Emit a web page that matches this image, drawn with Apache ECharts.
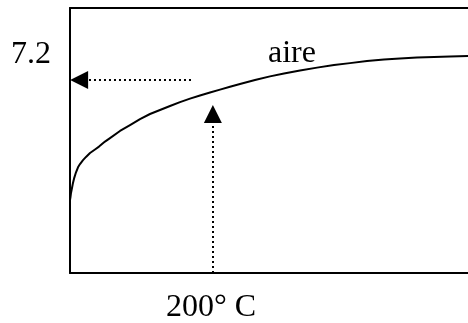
<!DOCTYPE html>
<html>
<head>
<meta charset="utf-8">
<script src="https://cdn.jsdelivr.net/npm/echarts@6/dist/echarts.min.js"></script>
<style>
html,body{margin:0;padding:0;background:#fff;}
#c{width:468px;height:323px;}
</style>
</head>
<body>
<div id="c"></div>
<script>
// Curve "aire" (x in 0..100, y in 0..10 arbitrary units)
var curveX = [0, 0.13, 0.25, 0.5, 0.75, 1.01, 1.51, 2.01, 2.51, 3.27, 4.02, 5.03, 6.28, 7.29, 8.79, 10.05, 12.56, 15.08, 17.59, 20.10, 22.61, 25.13, 27.64, 30.15, 32.66, 35.18, 37.69, 40.20, 42.71, 46.48, 50.25, 53.77, 57.79, 62.06, 66.33, 70.35, 74.62, 78.89, 82.91, 87.19, 91.46, 95.48, 100];
var curveY = [2.75, 2.87, 3.02, 3.21, 3.40, 3.56, 3.80, 3.99, 4.11, 4.26, 4.38, 4.53, 4.66, 4.77, 4.96, 5.09, 5.36, 5.58, 5.81, 6.00, 6.15, 6.30, 6.45, 6.58, 6.70, 6.81, 6.92, 7.03, 7.13, 7.28, 7.42, 7.53, 7.64, 7.75, 7.85, 7.92, 8.00, 8.06, 8.09, 8.13, 8.15, 8.17, 8.19];
// Reading arrows
var readX = 35.9;      // 200° C position
var readY = 7.28;      // 7.2 level
var hArrowStart = 30.4;
var hArrowEnd = 2.3;
var vArrowTop = 6.0;
var labelY = '7.2';
var labelX = '200° C';
var seriesName = 'aire';

var data = curveX.map(function (x, i) { return [x, curveY[i]]; });
var font = '"Liberation Serif", "Times New Roman", serif';

var chart = echarts.init(document.getElementById('c'), null, {renderer: 'canvas'});
chart.setOption({
  animation: false,
  backgroundColor: '#fff',
  grid: {left: 70, right: 0, top: 8, bottom: 50},
  xAxis: [
    {type: 'value', min: 0, max: 100, position: 'bottom',
     axisLine: {show: true, lineStyle: {color: '#000', width: 2}},
     axisTick: {show: false}, axisLabel: {show: false}, splitLine: {show: false}},
    {type: 'value', min: 0, max: 100, position: 'top',
     axisLine: {show: true, lineStyle: {color: '#000', width: 2}},
     axisTick: {show: false}, axisLabel: {show: false}, splitLine: {show: false}}
  ],
  yAxis: {type: 'value', min: 0, max: 10,
    axisLine: {show: true, onZero: false, lineStyle: {color: '#000', width: 2}},
    axisTick: {show: false}, axisLabel: {show: false}, splitLine: {show: false}},
  series: [{
    name: seriesName,
    type: 'line',
    data: data,
    smooth: false,
    showSymbol: false,
    symbol: 'none',
    lineStyle: {color: '#000', width: 2, join: 'round', cap: 'round'},
    markLine: {
      silent: true,
      symbol: ['none', 'triangle'],
      symbolSize: 18,
      label: {show: false},
      lineStyle: {color: '#000', width: 2, type: [2, 3]},
      data: [
        [{coord: [hArrowStart, readY]}, {coord: [hArrowEnd, readY]}],
        [{coord: [readX, 0]}, {coord: [readX, vArrowTop]}]
      ]
    }
  }],
  graphic: [
    {type: 'text', left: 11, top: 39, style: {text: labelY, font: '32px ' + font, fill: '#000'}},
    {type: 'text', left: 268, top: 38, style: {text: seriesName, font: '32px ' + font, fill: '#000'}},
    {type: 'text', left: 166, top: 292, style: {text: labelX, font: '32px ' + font, fill: '#000'}}
  ]
});
</script>
</body>
</html>
